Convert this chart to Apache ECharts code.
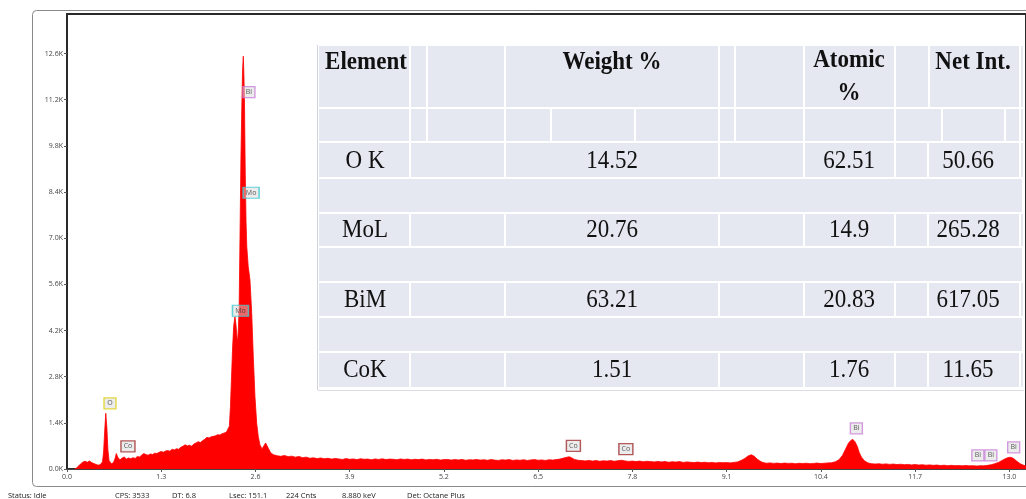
<!DOCTYPE html>
<html>
<head>
<meta charset="utf-8">
<script src="https://cdn.jsdelivr.net/npm/echarts@6/dist/echarts.min.js"></script>
<style>
  html, body { margin: 0; padding: 0; background: #ffffff; }
  #chart { width: 1026px; height: 499px; }
</style>
</head>
<body>
<div id="chart"></div>
<script>
// EDS spectrum: [energy keV, counts]
const spectrum = [
  [0.10,0],[0.13,30],[0.16,90],[0.19,160],[0.22,210],[0.25,235],[0.28,205],[0.31,245],[0.34,195],[0.37,165],
  [0.40,140],[0.43,115],[0.46,135],[0.49,220],[0.505,520],[0.52,1150],[0.535,1690],[0.55,1250],[0.565,560],[0.58,260],
  [0.61,160],[0.64,190],[0.665,330],[0.68,470],[0.70,360],[0.73,270],[0.76,330],[0.79,365],[0.82,300],[0.85,335],
  [0.88,310],[0.91,345],[0.94,320],[0.97,380],[1.00,365],[1.03,420],[1.06,470],[1.09,435],[1.12,420],[1.15,455],
  [1.18,440],[1.21,480],[1.24,470],[1.27,505],[1.30,530],[1.33,510],[1.36,545],[1.39,560],[1.42,540],[1.45,600],
  [1.48,580],[1.51,615],[1.54,600],[1.57,660],[1.60,690],[1.63,735],[1.66,700],[1.69,720],[1.72,690],[1.75,760],
  [1.78,790],[1.81,830],[1.84,800],[1.87,860],[1.90,900],[1.93,960],[1.96,940],[1.99,980],[2.02,990],[2.05,1010],
  [2.08,1040],[2.11,1030],[2.14,1070],[2.17,1090],[2.20,1120],[2.225,1160],[2.24,1300],[2.255,1900],[2.27,2800],[2.285,3700],
  [2.30,4350],[2.317,4620],[2.33,4400],[2.345,4000],[2.355,3870],[2.365,4300],[2.375,4900],[2.386,6950],[2.40,9490],[2.412,11000],
  [2.422,12100],[2.432,12520],[2.44,12000],[2.448,11200],[2.459,8990],[2.47,7500],[2.48,6750],[2.50,6140],[2.524,5740],[2.548,4740],
  [2.57,3410],[2.593,2200],[2.617,1390],[2.639,980],[2.662,730],[2.69,610],[2.715,580],[2.74,790],[2.755,830],[2.777,630],
  [2.81,490],[2.85,430],[2.90,400],[2.95,385],[3.00,410],[3.05,375],[3.10,390],[3.15,360],[3.20,380],[3.25,345],
  [3.30,360],[3.35,325],[3.40,340],[3.45,315],[3.50,335],[3.55,310],[3.60,325],[3.65,300],[3.70,320],[3.75,305],
  [3.80,290],[3.85,315],[3.90,295],[3.95,305],[4.00,285],[4.05,310],[4.10,295],[4.15,300],[4.20,280],[4.25,305],
  [4.30,290],[4.35,310],[4.40,285],[4.45,300],[4.50,295],[4.55,280],[4.60,305],[4.65,290],[4.70,300],[4.75,280],
  [4.80,295],[4.85,285],[4.90,300],[4.95,275],[5.00,290],[5.05,280],[5.10,295],[5.15,270],[5.20,285],[5.25,290],
  [5.30,270],[5.35,285],[5.40,275],[5.45,290],[5.50,265],[5.55,280],[5.60,275],[5.65,290],[5.70,270],[5.75,280],
  [5.80,265],[5.85,285],[5.90,270],[5.95,260],[6.00,280],[6.05,270],[6.10,285],[6.15,260],[6.20,275],[6.25,265],
  [6.30,280],[6.35,260],[6.40,275],[6.45,285],[6.50,265],[6.55,275],[6.60,260],[6.65,280],[6.70,270],[6.75,285],
  [6.80,300],[6.85,330],[6.90,360],[6.93,370],[6.96,340],[7.00,290],[7.05,265],[7.10,255],[7.15,245],[7.20,260],
  [7.25,240],[7.30,255],[7.35,235],[7.40,250],[7.45,240],[7.50,255],[7.55,235],[7.60,250],[7.65,265],[7.70,245],
  [7.75,230],[7.80,240],[7.85,225],[7.90,240],[7.95,220],[8.00,235],[8.05,225],[8.10,215],[8.15,230],[8.20,215],
  [8.25,225],[8.30,205],[8.35,220],[8.40,210],[8.45,225],[8.50,200],[8.55,215],[8.60,205],[8.65,195],[8.70,210],
  [8.75,195],[8.80,205],[8.85,190],[8.90,200],[8.95,185],[9.00,200],[9.05,190],[9.10,195],[9.15,185],[9.20,200],
  [9.25,215],[9.30,260],[9.35,320],[9.40,400],[9.44,430],[9.48,390],[9.52,300],[9.56,240],[9.60,195],[9.65,175],
  [9.70,185],[9.75,170],[9.80,180],[9.85,165],[9.90,180],[9.95,170],[10.00,175],[10.05,160],[10.10,175],[10.15,165],
  [10.20,175],[10.25,160],[10.30,170],[10.35,180],[10.40,165],[10.45,175],[10.50,185],[10.55,190],[10.60,220],[10.65,280],
  [10.70,420],[10.74,600],[10.78,780],[10.81,860],[10.84,900],[10.87,830],[10.90,700],[10.93,500],[10.96,360],[11.00,250],
  [11.05,185],[11.10,160],[11.15,150],[11.20,160],[11.25,145],[11.30,155],[11.35,140],[11.40,150],[11.45,135],[11.50,145],
  [11.55,130],[11.60,140],[11.65,125],[11.70,135],[11.75,120],[11.80,130],[11.85,115],[11.90,125],[11.95,110],[12.00,120],
  [12.05,105],[12.10,115],[12.15,100],[12.20,110],[12.25,100],[12.30,105],[12.35,95],[12.40,105],[12.45,95],[12.50,100],
  [12.55,90],[12.60,100],[12.65,95],[12.70,110],[12.75,130],[12.80,160],[12.85,200],[12.90,260],[12.95,320],[13.00,355],
  [13.03,350],[13.06,315],[13.10,240],[13.15,160],[13.20,110],[13.25,90]
];

// Peak identification tags: [element, energy keV, counts]
const peakLabels = [
  ['Bi', 2.51, 11430], ['Mo', 2.54, 8380], ['Mo', 2.393, 4800], ['O', 0.593, 1990],
  ['Co', 0.841, 685], ['Co', 6.986, 700], ['Co', 7.71, 605], ['Bi', 10.89, 1230],
  ['Bi', 12.566, 410], ['Bi', 12.745, 410], ['Bi', 13.06, 655]
];

// Quantification table
const tableHeaders = ['Element', 'Weight %', 'Atomic %', 'Net Int.'];
const elements = ['O K', 'MoL', 'BiM', 'CoK'];
const weightPct = [14.52, 20.76, 63.21, 1.51];
const atomicPct = [62.51, 14.9, 20.83, 1.76];
const netInt = [50.66, 265.28, 617.05, 11.65];

// Acquisition status line
const statusItems = ['Status: Idle', 'CPS: 3533', 'DT: 6.8', 'Lsec: 151.1', '224 Cnts', '8.880 keV', 'Det: Octane Plus'];

// ---- styling / layout ----
const tagColors = { Bi: '#c97fd8', Mo: '#3fc9d0', O: '#dccf10', Co: '#a33232' };
const tagWidths = { Bi: 12, Mo: 16, O: 12, Co: 14 };
const statusX = [8, 115, 172, 229, 286, 342, 407];

const cellFill = '#e5e7f1';
const bandY = [45, 108, 142, 178, 213, 247, 282, 317, 352, 388];
const headerCuts = [318, 410, 427, 505, 719, 735, 804, 895, 929, 1020, 1024];
const blankCuts = [318, 410, 427, 505, 551, 635, 719, 735, 804, 895, 942, 1005, 1020, 1024];
const dataCuts = [318, 410, 505, 719, 804, 895, 928, 1020, 1024];
const mergedCuts = [318, 1023];
const bandCuts = [headerCuts, blankCuts, dataCuts, mergedCuts, dataCuts, mergedCuts, dataCuts, mergedCuts, dataCuts];
const colCenters = [365, 612, 849, 968];
const headerCenters = [366, 612, 849, 973];
const dataRowY = [161, 230, 300, 370];

const graphic = [];

// outer instrument frame
graphic.push({
  type: 'rect', z: 1, silent: true,
  shape: { x: 32.5, y: 10.5, width: 1100, height: 476, r: 4 },
  style: { fill: 'none', stroke: '#8a8a8a', lineWidth: 1 }
});

// table cells
for (let b = 0; b < bandCuts.length; b++) {
  const cuts = bandCuts[b];
  const y0 = bandY[b], y1 = bandY[b + 1];
  for (let i = 0; i < cuts.length - 1; i++) {
    graphic.push({
      type: 'rect', z: 20, silent: true,
      shape: { x: cuts[i] + 1, y: y0 + 1, width: cuts[i + 1] - cuts[i] - 2, height: y1 - y0 - 2 },
      style: { fill: cellFill }
    });
  }
}
graphic.push({ type: 'line', z: 21, silent: true, shape: { x1: 317.5, y1: 45, x2: 317.5, y2: 390 }, style: { stroke: '#d2d4dd', lineWidth: 1 } });
graphic.push({ type: 'line', z: 21, silent: true, shape: { x1: 318, y1: 390.5, x2: 1024, y2: 390.5 }, style: { stroke: '#dadbe3', lineWidth: 1 } });

function tableText(str, x, y, bold) {
  return {
    type: 'text', z: 22, silent: true, x: x, y: y, scaleY: 1.12,
    style: {
      text: str, x: 0, y: 0, fill: '#111111',
      fontFamily: '"Liberation Serif", "Times New Roman", serif',
      fontSize: 23, fontWeight: bold ? 'bold' : 'normal',
      textAlign: 'center', textVerticalAlign: 'middle', lineHeight: 30
    }
  };
}

tableHeaders.forEach((h, i) => {
  const label = h === 'Atomic %' ? 'Atomic\n%' : h;
  const y = h === 'Atomic %' ? 77 : 62;
  graphic.push(tableText(label, headerCenters[i], y, true));
});
elements.forEach((el, r) => {
  const row = [el, String(weightPct[r]), String(atomicPct[r]), String(netInt[r])];
  row.forEach((t, c) => graphic.push(tableText(t, colCenters[c], dataRowY[r], false)));
});

// status line
statusItems.forEach((s, i) => {
  graphic.push({
    type: 'text', z: 5, silent: true, x: statusX[i], y: 496,
    style: { text: s, fill: '#222', fontSize: 7.5, fontFamily: '"Open Sans", sans-serif', textVerticalAlign: 'middle' }
  });
});

const axisFont = { fontSize: 7, color: '#444', fontFamily: '"Open Sans", sans-serif' };

const chart = echarts.init(document.getElementById('chart'), null, { renderer: 'canvas' });
chart.setOption({
  animation: false,
  backgroundColor: '#ffffff',
  grid: { left: 67, right: 0, top: 14, bottom: 30, show: true, borderColor: '#2a2a2a', borderWidth: 2, backgroundColor: '#ffffff' },
  xAxis: {
    type: 'value', min: 0, max: 13.23, interval: 1.3,
    axisLine: { show: true, lineStyle: { color: '#444', width: 1 } },
    axisTick: { show: true, length: 3, lineStyle: { color: '#555' } },
    axisLabel: Object.assign({ margin: 4, showMaxLabel: false, formatter: v => v.toFixed(1) }, axisFont),
    splitLine: { show: false }
  },
  yAxis: {
    type: 'value', min: 0, max: 13800, interval: 1400,
    axisLine: { show: true, lineStyle: { color: '#2a2a2a', width: 2 } },
    axisTick: { show: true, length: 3, lineStyle: { color: '#555' } },
    axisLabel: Object.assign({ margin: 4, showMaxLabel: false, formatter: v => (v / 1000).toFixed(1) + 'K' }, axisFont),
    splitLine: { show: false }
  },
  series: [
    {
      type: 'line', data: spectrum, symbol: 'none', silent: true, z: 2,
      lineStyle: { color: '#ff0000', width: 0.8 },
      areaStyle: { color: '#ff0000', opacity: 1 }
    },
    {
      type: 'scatter', symbol: 'rect', silent: true, z: 5,
      data: peakLabels.map(p => ({
        name: p[0], value: [p[1], p[2]],
        symbolSize: [tagWidths[p[0]], 11],
        itemStyle: { color: 'rgba(215,215,215,0.6)', borderColor: tagColors[p[0]], borderWidth: 1.3 }
      })),
      label: { show: true, position: 'inside', formatter: p => p.name, fontSize: 7, color: '#333', fontFamily: '"Open Sans", sans-serif' }
    }
  ],
  graphic: graphic
});
</script>
</body>
</html>
